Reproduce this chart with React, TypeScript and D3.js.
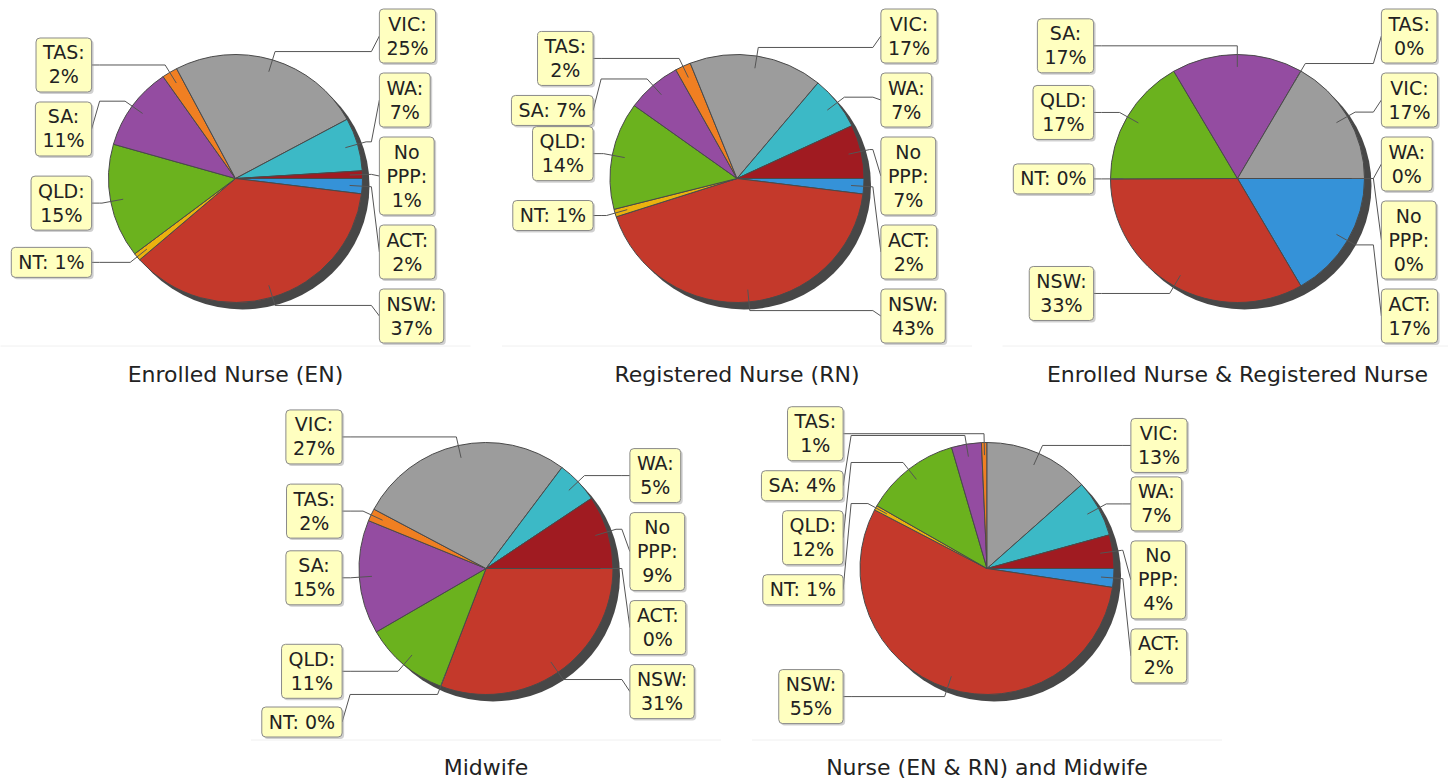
import React from 'react'
import * as d3 from 'd3'

// categories, in the order the slices run (clockwise from 3 o'clock)
const regions = ['ACT', 'NSW', 'NT', 'QLD', 'SA', 'TAS', 'VIC', 'WA', 'No PPP']

// share of practitioners per state (%), one array per chart
const enrolledNurse = [2, 37, 1, 15, 11, 2, 25, 7, 1]
const registeredNurse = [2, 43, 1, 14, 7, 2, 17, 7, 7]
const enrolledAndRegistered = [16.7, 33.3, 0, 16.7, 16.7, 0, 16.7, 0, 0]
const midwife = [0, 30.8, 0, 10.8, 14.6, 1.6, 27.4, 5.4, 9.4]
const nurseAndMidwife = [2.4, 55.3, 0.6, 12.2, 3.8, 0.7, 13.4, 7.3, 4.3]

const chartTitles = [
  'Enrolled Nurse (EN)',
  'Registered Nurse (RN)',
  'Enrolled Nurse & Registered Nurse',
  'Midwife',
  'Nurse (EN & RN) and Midwife'
]

const sliceColors = ['#3592d8', '#c4392b', '#eab20f', '#6bb21e', '#944ca1', '#f07f22', '#9c9c9c', '#3cb9c6', '#a01b21']

const FONT = "'DejaVu Sans', Verdana, sans-serif"
const LABEL_SIZE = 19
const LINE_H = 24
const PAD_X = 7
const MAX_LABEL_W = 70.5
const MIN_GAP = 10
const LABEL_GAP = 8
const LINK_DEPTH = 0.9
const LINK_R = 1.07

var ctx = null
const measure = (s) => {
  if (!ctx) ctx = document.createElement('canvas').getContext('2d')
  ctx.font = LABEL_SIZE + 'px ' + FONT
  return ctx.measureText(s).width
}

const wrap = (text) => {
  var lines = []
  var cur = ''
  text.split(' ').forEach(w => {
    var t = cur ? cur + ' ' + w : w
    if (cur && measure(t) > MAX_LABEL_W) {
      lines.push(cur)
      cur = w
    } else cur = t
  })
  if (cur) lines.push(cur)
  return lines
}

// same idea as jfreechart's PieLabelDistributor
const distribute = (recs, minY, maxY) => {
  recs.sort((a, b) => a.baseY - b.baseY)
  recs.forEach(r => { r.y = r.baseY })
  var top = r => r.y - r.h / 2
  var bot = r => r.y + r.h / 2
  var overlapping = () => recs.some((r, i) => i < recs.length - 1 && bot(r) >= top(recs[i + 1]))
  if (overlapping()) {
    for (var i = 0; i < recs.length - 1; i++) {
      var r0 = recs[i], r1 = recs[i + 1]
      if (top(r1) < bot(r0)) r1.y = Math.min(maxY - r1.h / 2, bot(r0) + MIN_GAP + r1.h / 2)
    }
  }
  if (overlapping()) {
    for (var j = recs.length - 1; j > 0; j--) {
      var a = recs[j], b = recs[j - 1]
      if (bot(b) > top(a)) b.y = Math.max(minY + b.h / 2, top(a) - MIN_GAP - b.h / 2)
    }
  }
  if (overlapping()) {
    var sum = d3.sum(recs, r => r.h)
    var gap = recs.length > 1 ? (maxY - minY - sum) / (recs.length - 1) : 0
    var y = minY
    recs.forEach(r => { r.y = y + r.h / 2; y += r.h + gap })
  }
  return recs
}

const PieChart = ({ title, values, cx, cy, rx, ry, minY, maxY, plotTop, plotBottom, titleY }) => {
  var total = d3.sum(values)
  var pie = d3.pie().sort(null).startAngle(Math.PI / 2).endAngle(Math.PI / 2 + 2 * Math.PI)
  var arcs = pie(values)
  var arc = d3.arc().innerRadius(0).outerRadius(rx)

  var left = []
  var right = []
  arcs.forEach((d, i) => {
    var mid = (d.startAngle + d.endAngle) / 2
    var dx = Math.sin(mid)
    var dy = -Math.cos(mid)
    var pct = Math.round((values[i] / total) * 100)
    var lines = wrap(regions[i] + ': ' + pct + '%')
    var w = d3.max(lines, l => measure(l)) + PAD_X * 2
    var rec = {
      i, dx, dy, lines, w,
      h: lines.length * LINE_H + 6,
      baseY: cy + dy * ry * LINK_R
    }
    if (dx < 0) left.push(rec)
    else right.push(rec)
  })
  distribute(left, minY, maxY)
  distribute(right, minY, maxY)

  var labels = left.map(r => ({ ...r, side: -1 })).concat(right.map(r => ({ ...r, side: 1 })))

  return (
    <g>
      <line x1={cx - 235} x2={cx + 235} y1={plotBottom} y2={plotBottom} stroke='#f0f0f0' />
      <ellipse cx={cx + 7} cy={cy + 7} rx={rx} ry={ry} fill='#474747' />
      <g transform={'translate(' + cx + ',' + cy + ') scale(1,' + ry / rx + ')'}>
        {arcs.map((d, i) => d.value > 0 && (
          <path key={i} d={arc(d)} fill={sliceColors[i]} stroke='#4a4a4a' strokeWidth={1}
            vectorEffect='non-scaling-stroke' strokeLinejoin='round' />
        ))}
      </g>
      {labels.map(r => {
        var x0 = cx + r.dx * rx * LINK_DEPTH
        var y0 = cy + r.dy * ry * LINK_DEPTH
        var ex = cx + r.dx * rx * LINK_R
        var ey = cy + r.dy * ry * LINK_R
        var ax = cx + r.side * rx * LINK_R
        var tx = ax + r.side * LABEL_GAP
        var p = d3.path()
        p.moveTo(x0, y0)
        p.lineTo(ex, ey)
        p.lineTo(ax, ey)
        p.lineTo(tx, r.y)
        return <path key={'l' + r.i} d={p.toString()} fill='none' stroke='#555' strokeWidth={1} />
      })}
      {labels.map(r => {
        var tx = cx + r.side * (rx * LINK_R + LABEL_GAP)
        var bx = r.side > 0 ? tx : tx - r.w
        var by = r.y - r.h / 2
        return (
          <g key={'b' + r.i}>
            <rect x={bx + 2} y={by + 2} width={r.w} height={r.h} rx={4} fill='#979797' opacity={0.45} />
            <rect x={bx} y={by} width={r.w} height={r.h} rx={4} fill='#ffffc0' stroke='#8a8a8a' strokeWidth={1} />
            <text x={bx + r.w / 2} textAnchor='middle' fontFamily={FONT} fontSize={LABEL_SIZE} fill='#222'>
              {r.lines.map((l, k) => (
                <tspan key={k} x={bx + r.w / 2} y={by + 3 + k * LINE_H + 18.5}>{l}</tspan>
              ))}
            </text>
          </g>
        )
      })}
      <text x={cx} y={titleY} textAnchor='middle' fontFamily={FONT} fontSize={22} fill='#222'>{title}</text>
    </g>
  )
}

const topRow = { cy: 178.5, rx: 127, ry: 124, minY: 9, maxY: 343, plotTop: 0, plotBottom: 346, titleY: 381.5 }
const bottomRow = { cy: 568.5, rx: 127, ry: 126, minY: 402, maxY: 737, plotTop: 393, plotBottom: 740, titleY: 775 }

const charts = [
  { values: enrolledNurse, cx: 235.5, row: topRow },
  { values: registeredNurse, cx: 737, row: topRow },
  { values: enrolledAndRegistered, cx: 1237.5, row: topRow },
  { values: midwife, cx: 486, row: bottomRow },
  { values: nurseAndMidwife, cx: 987, row: bottomRow }
]

export default function App() {
  return (
    <svg width={1448} height={780} style={{ position: 'absolute', left: 0, top: 0, background: '#fff' }}>
      {charts.map((c, i) => (
        <PieChart key={i} title={chartTitles[i]} values={c.values} cx={c.cx} {...c.row} />
      ))}
    </svg>
  )
}
